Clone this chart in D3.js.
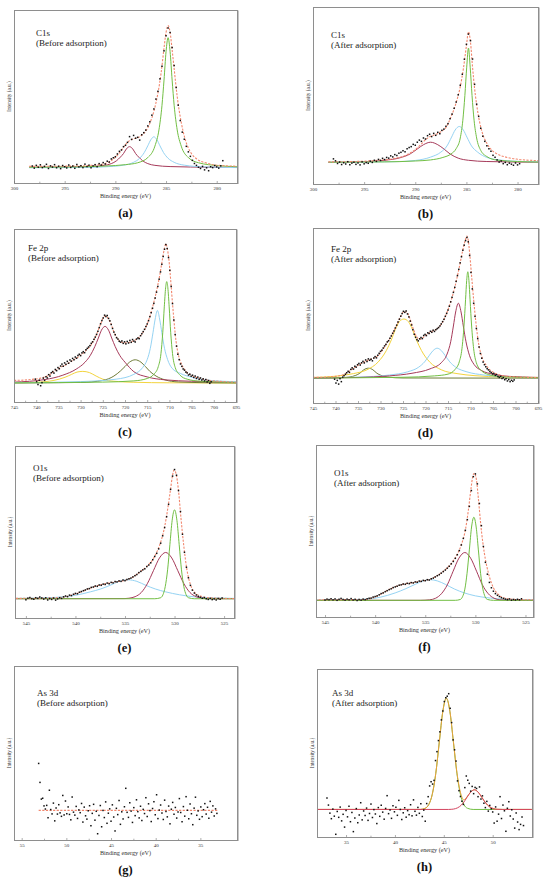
<!DOCTYPE html>
<html>
<head>
<meta charset="utf-8">
<script src="https://cdn.jsdelivr.net/npm/d3@7"></script>
<style>
  body { margin: 0; background: #fff; }
  svg { display: block; }
</style>
</head>
<body>
<svg width="550" height="882"></svg>
<script>
// ---- labels ----
var elements = ["C1s", "C1s", "Fe 2p", "Fe 2p", "O1s", "O1s", "As 3d", "As 3d"];
var states = ["(Before adsorption)", "(After adsorption)", "(Before adsorption)", "(After adsorption)",
              "(Before adsorption)", "(After adsorption)", "(Before adsorption)", "(After adsorption)"];
var letters = ["(a)", "(b)", "(c)", "(d)", "(e)", "(f)", "(g)", "(h)"];

var cTicks = [300, 295, 290, 285, 280];
var feTicks = [745, 740, 735, 730, 725, 720, 715, 710, 705, 700, 695];
var oTicks = [545, 540, 535, 530, 525];
var asTicksG = [55, 50, 45, 40, 35];
var asTicksH = [35, 40, 45, 50];

// intensities are in % of plot height, energies in eV

// ---- (a) C1s before ----
var aStart = 298.2, aStep = -0.2;
var aDots = [9.8,8.6,10.2,9.1,10.5,8.9,9.6,10.8,8.4,9.9,9.2,10.6,8.8,9.7,8.3,10.1,9.4,8.7,10.4,9.0,
  9.8,8.5,10.7,9.3,10.0,8.9,10.9,9.5,10.3,8.8,9.9,10.6,9.4,11.2,10.4,11.8,11.0,12.6,12.1,13.9,
  14.6,15.2,16.8,18.3,19.1,21.0,21.8,23.5,26.8,25.2,27.5,25.9,26.4,24.8,27.9,29.1,30.6,33.0,35.4,39.2,
  42.8,48.5,53.0,60.2,67.5,76.4,85.1,89.6,87.0,78.3,67.9,55.2,45.0,36.1,29.4,25.3,21.2,18.0,15.4,13.1,
  11.3,10.2,9.1,8.4,9.6,7.6,8.8,7.1,9.4,8.9,10.1,9.3,8.6,9.9,12.9];
var aGreen = [[298.5,9.1],[294,9.3],[291,9.8],[289,10.6],[287.8,11.7],[286.8,14.7],[286.1,21.3],[285.7,30.7],
  [285.4,44.9],[285.2,59.5],[285.0,75.9],[284.8,84],[284.6,75.9],[284.4,59.5],[284.2,44.9],[283.9,30.7],
  [283.5,21.3],[282.8,14.7],[281.8,11.7],[279.8,10],[278,9.4]];
var aBlue = [[298.5,8.8],[293,9.0],[291.2,9.3],[289.2,10.3],[288.2,11.95],[287.6,14.3],[287.15,17.6],[286.8,21.5],
  [286.5,25.0],[286.2,26.7],[285.9,25.0],[285.6,21.5],[285.25,17.6],[284.8,14.3],[284.2,11.95],[283.2,10.3],
  [281.2,9.3],[278,8.9]];
var aMaroon = [[298.5,9.0],[296.6,9.1],[292.6,9.5],[291.1,10.2],[290.4,11.2],[289.9,12.8],[289.5,15.0],[289.2,17.0],
  [288.9,19.8],[288.6,21],[288.3,19.8],[288.0,17.0],[287.7,15.0],[287.3,12.8],[286.8,11.2],[286.1,10.2],
  [284.6,9.5],[280.6,9.1],[278,9.0]];
var aFit = [[298.5,9.6],[294,9.8],[292,10.4],[291,11.3],[290.5,12.6],[290,14.8],[289.5,18.2],[289,22.2],[288.6,24.5],
  [288.2,25.6],[287.8,26.2],[287.4,27.6],[287,30],[286.6,34.5],[286.2,41.5],[285.8,52],[285.5,63],[285.2,78],
  [285,87],[284.8,91],[284.6,87],[284.4,77],[284.2,66],[283.9,50],[283.5,35],[283.1,25],[282.6,18],[282,14],
  [281,11.5],[280,10.3],[278,9.7]];

// ---- (b) C1s after ----
var bStart = 298.0, bStep = -0.2;
var bDots = [14.2,13.1,11.6,12.4,11.0,12.0,11.3,12.6,10.9,11.8,12.3,11.1,11.9,10.8,12.5,11.4,12.1,11.7,12.9,12.2,
  13.4,12.8,13.9,13.3,14.5,13.8,15.0,14.6,15.9,15.3,16.6,16.1,17.4,17.9,18.8,18.2,19.9,20.6,21.1,22.4,
  21.9,23.6,24.8,24.1,26.0,25.4,27.3,28.1,26.8,28.6,27.5,29.2,28.4,30.3,31.0,32.6,34.1,36.9,39.5,42.8,
  46.3,50.4,55.8,62.0,70.5,78.9,84.7,81.0,70.6,56.3,45.1,38.2,31.5,27.0,24.1,21.6,19.9,18.5,16.2,15.1,
  13.6,12.4,13.0,11.5,12.2,10.9,11.8,11.2,10.6,11.9,10.8,11.5];
var bGreen = [[298.5,12.3],[293,12.5],[290,13.0],[288.5,13.6],[287.3,15],[286.5,17],[286.0,20],[285.6,26],[285.35,36],
  [285.15,50],[284.97,66],[284.8,76.8],[284.63,66],[284.45,50],[284.25,36],[284.0,26],[283.6,19],[283.0,15.5],
  [282,13.5],[280,12.7],[278,12.4]];
var bBlue = [[298.5,12.3],[292,12.6],[290,13.3],[288.5,15.2],[287.5,18],[286.9,21.5],[286.45,26.5],[286.1,30.5],
  [285.7,32.5],[285.3,30.5],[284.95,26.5],[284.5,21.5],[283.9,18],[283,15.0],[281.5,13.4],[279.5,12.7],[278,12.5]];
var bMaroon = [[298.5,12.2],[295.5,12.5],[293,13.4],[291.5,14.8],[290.5,17.0],[289.8,19.8],[289.2,22.2],[288.5,23.6],
  [287.8,22.2],[287.2,19.8],[286.6,17.0],[285.8,14.6],[284.8,13.4],[283,12.7],[278,12.3]];
var bFit = [[298.5,12.5],[296,12.7],[294,13.2],[292,14.5],[291,16],[290,19.5],[289.5,22],[289,25],[288.5,27],[288,28],
  [287.5,29.5],[287,32],[286.5,38],[286,46],[285.6,55],[285.3,65],[285.0,78],[284.8,86],[284.6,80],[284.4,66],
  [284.2,54],[283.9,41],[283.5,30],[283,23],[282.5,19],[282,17],[281,15],[280,14],[278,13.2]];

// ---- (c) Fe 2p before ----
var cStart = 740.2, cStep = -0.3;
var cDots = [13.2,11.8,10.1,12.6,9.4,11.2,13.8,12.5,14.6,13.9,15.8,15.0,16.9,17.6,16.7,18.8,18.1,19.9,19.2,20.8,
  21.9,20.7,22.6,21.8,23.5,22.4,24.3,23.6,25.2,24.4,26.0,25.3,26.9,27.6,26.8,28.4,29.1,28.5,30.2,31.0,
  31.8,32.6,33.9,34.8,36.2,37.5,39.1,40.9,43.0,45.2,47.1,48.6,50.2,49.4,50.0,48.3,46.9,44.8,42.5,40.4,
  38.9,37.2,36.4,35.1,34.6,35.3,33.9,34.8,33.6,35.0,34.1,35.6,34.5,36.1,35.2,34.7,36.4,37.0,36.6,38.3,
  39.5,40.7,42.0,43.6,45.1,47.0,49.3,51.6,54.2,57.0,60.1,63.5,66.8,71.0,75.2,79.6,84.1,88.3,91.0,88.7,
  83.5,76.1,66.8,56.9,47.4,39.0,32.3,27.6,24.5,22.0,20.6,19.1,18.4,17.3,16.8,15.6,16.1,14.9,15.5,14.2,
  15.0,13.6,14.4,13.1,13.9,12.7,13.4,12.2,13.0,11.6,12.4,10.8,11.7];
var cGreen = [[745,11.1],[725,11.5],[718,12.2],[715,13.6],[713.5,16],[712.5,20.5],[711.9,28],[711.5,40],[711.15,55],
  [710.85,66],[710.6,69.6],[710.35,66],[710.05,55],[709.7,40],[709.3,28],[708.7,20],[707.6,15.5],[706,13.2],
  [703,12],[695,11.3]];
var cBlue = [[745,11.1],[730,11.8],[722,13.2],[718,16],[716,20],[715,24.5],[714.3,31],[713.7,40],[713.2,48],
  [712.7,52.9],[712.2,48],[711.7,40],[711.1,31],[710.4,24.5],[709.4,19.5],[707.5,16.5],[705,14.3],[702,12.8],
  [698,12],[695,11.7]];
var cMaroon = [[745,11.5],[738,13],[734,15.5],[731,19],[729,23],[727.8,27],[726.8,32],[726,37],[725.3,41.5],
  [724.5,43.7],[723.7,41.5],[723,37],[722.2,32],[721.2,27],[720,23],[718,17.5],[715,14.5],[711,12.8],
  [705,12],[695,11.4]];
var cOlive = [[745,11],[730,11.3],[725,12.5],[722.5,15],[721,18],[720,20.5],[719,23],[717.7,24.4],[716.4,23],
  [715.4,20.5],[714.4,17.7],[713,15],[711,12.8],[708,11.6],[700,11.1],[695,11]];
var cYellow = [[745,11],[740,11.4],[736,12.5],[733.5,14.3],[732,16],[730.8,17.3],[729.5,17.7],[728,17],[726.5,15],
  [725,13.2],[722.5,12],[718,11.4],[710,11.1],[695,11]];
var cFit = [[745,12.5],[742,12.8],[740.5,13.2],[739,13.8],[737.5,15],[736,17.5],[734.5,20],[733,22],[731.5,24.5],
  [730,27],[728.5,30.5],[727.5,33.5],[726.5,38.5],[725.5,45],[724.8,49],[724.4,49.8],[724,49],[723.2,45.5],
  [722.5,40.5],[721.8,37],[721,35],[720,34.2],[719,34.5],[718,35.5],[717,37],[716,40],[715,45],[714,53],
  [713,63],[712.2,73],[711.6,82],[711.1,89],[710.8,91.5],[710.5,89],[710.1,82],[709.7,70],[709.3,57],
  [708.9,45],[708.5,35],[708,27.5],[707.3,22],[706.5,18.5],[705.5,16],[704.5,14.8],[703,13.5],[701,12.5],
  [698,11.8],[695,11.4]];

// ---- (d) Fe 2p after ----
var dStart = 740.2, dStep = -0.3;
var dDots = [13.6,11.4,12.9,10.8,13.9,12.2,14.8,15.6,16.4,17.3,18.1,17.5,19.2,20.1,19.4,21.0,20.5,21.9,22.6,21.7,
  23.0,23.8,22.9,24.6,23.7,25.2,24.4,25.0,24.1,25.7,26.5,25.8,27.3,28.4,29.5,30.2,31.4,32.6,33.5,34.9,
  35.6,37.0,38.3,39.8,41.2,42.9,44.5,46.3,47.9,49.6,51.1,52.4,51.8,52.6,50.9,49.2,46.8,44.6,41.9,39.3,
  37.6,36.2,35.5,36.7,37.4,36.8,38.6,39.2,38.5,40.1,39.7,41.0,40.4,41.6,40.9,41.9,42.5,43.1,44.0,45.2,
  46.5,47.8,49.5,51.2,53.1,55.3,57.8,60.4,63.2,66.1,69.5,72.8,76.4,80.1,83.6,87.3,90.2,92.8,94.6,92.1,
  84.3,74.6,65.2,57.0,49.5,42.6,36.8,32.0,28.3,25.6,23.4,21.9,20.7,19.6,18.9,18.0,17.4,16.6,16.9,15.8,
  16.2,15.1,14.6,15.2,14.0,14.5,13.3,13.9,12.6,13.4,12.2,13.0,12.4,13.2];
var dGreen = [[745,14.3],[725,14.7],[718,15.5],[715,16.5],[713.5,19],[712.5,23.5],[711.9,31],[711.45,44],[711.1,59],
  [710.85,70],[710.6,75],[710.35,70],[710.1,59],[709.75,44],[709.3,31],[708.7,23],[707.6,18.5],[706,16.3],
  [703,15],[695,14.5]];
var dMaroon = [[745,14.3],[735,14.6],[728,15.5],[723,17],[719,19.5],[716.5,23],[715.2,28],[714.4,35],[713.8,44],
  [713.3,52],[712.7,57],[712.1,52],[711.6,44],[711.0,35],[710.2,27],[709.2,22],[707.5,18.5],[705,16.5],
  [702,15.3],[695,14.6]];
var dYellow = [[745,14.6],[740,15.3],[736,16.8],[733,19],[730.5,23.5],[728.7,30],[727.6,36],[726.7,42],[725.8,46.5],
  [724.8,48],[723.8,46.5],[722.9,42],[722.0,36],[720.9,30],[719.1,23.5],[716.5,19],[713,16.8],[709,15.6],
  [703,14.9],[695,14.6]];
var dBlue = [[745,14.3],[735,14.8],[728,16],[724,17.8],[721.5,20.5],[720.2,23.5],[719.2,27],[718.3,30],[717.4,31.3],
  [716.5,30],[715.6,27],[714.6,23.5],[713.3,20.5],[710.8,17.8],[707,16],[700,14.8],[695,14.5]];
var dOlive = [[745,14.2],[740,14.3],[737,14.8],[735.5,15.8],[734.6,17],[733.7,19],[732.7,19.9],[731.7,19],[730.8,17],
  [729.9,15.8],[728.4,14.8],[725,14.3],[695,14.2]];
var dFit = [[745,14.6],[742,14.8],[740,15.2],[738,16.5],[736.5,19],[735,21.5],[733.5,23.6],[732.5,24.8],[731.5,25.5],
  [730.5,27.2],[729.5,30.5],[728.5,34.5],[727.5,38.8],[726.5,44],[725.5,49.5],[724.8,52.2],[724.2,52],
  [723.5,48.5],[722.8,43],[722,38],[721.3,36.4],[720.5,37.5],[719.5,39.5],[718.5,41],[717.5,42.2],[716.5,45],
  [715.5,50],[714.5,57],[713.5,66],[712.5,77.5],[711.7,87.5],[711.1,93.5],[710.8,95.4],[710.5,93],[710.2,86],
  [709.8,74],[709.3,59],[708.8,46],[708.2,34],[707.5,26.5],[706.5,21.5],[705.5,18.5],[704,16.5],[702,15.3],
  [699,14.8],[695,14.5]];

// ---- (e) O1s before ----
var eStart = 545.0, eStep = -0.2;
var eDots = [10.6,11.5,11.9,11.2,10.9,11.8,11.4,12.2,11.6,11.0,11.7,10.5,11.3,10.8,11.6,10.4,11.1,11.8,11.4,12.3,
  12.8,12.4,13.3,13.0,13.8,14.3,14.1,15.0,15.4,15.9,16.3,16.9,17.1,17.8,18.0,18.6,18.4,19.2,19.0,19.7,
  19.5,20.3,19.9,20.7,20.4,21.2,21.0,21.6,21.3,22.1,21.7,22.4,22.8,23.2,23.9,24.6,25.3,26.4,27.1,28.0,
  28.6,29.9,30.8,32.1,33.9,35.8,37.6,40.2,43.5,47.8,52.6,58.9,66.1,74.8,82.5,86.3,83.0,74.1,61.9,48.7,
  38.2,29.5,23.4,19.0,16.2,14.5,13.4,12.6,12.1,11.5,11.9,11.2,10.8,11.4,10.7,11.1,10.5,11.3,10.9,11.6];
var eGreen = [[546,11.2],[532,11.2],[531.4,11.8],[531.17,13.5],[530.94,18.2],[530.7,28],[530.47,42.6],[530.24,56.8],
  [530,62.9],[529.76,56.8],[529.53,42.6],[529.3,28],[529.06,18.2],[528.83,13.5],[528.6,11.8],[528,11.2],[524,11.2]];
var eMaroon = [[546,11.2],[535,11.3],[534.6,11.5],[533.98,12.4],[533.36,14.8],[532.75,19.9],[532.13,27.5],
  [531.52,34.9],[530.9,38.1],[530.28,34.9],[529.67,27.5],[529.05,19.9],[528.44,14.8],[527.82,12.4],[527.2,11.5],
  [526.5,11.2],[524,11.2]];
var eBlue = [[546,11.4],[542,12],[540,13.2],[538.5,15.2],[537.5,16.8],[536.5,19],[535.6,21.3],[534.7,22.2],
  [533.8,21.3],[532.9,19],[531.9,16.8],[530.9,15.2],[529.5,13.5],[528,12.3],[526,11.7],[524,11.4]];
var eFit = [[546,11.4],[542,11.8],[541,12.4],[540,14],[539,16.2],[538,18.4],[537,19.9],[536,21],[535,21.9],
  [534.2,23.8],[533.5,26.8],[532.8,30],[532.2,34],[531.7,39.5],[531.3,46],[531,53],[530.7,63],[530.4,75],
  [530.2,83],[530.05,86],[529.85,84],[529.6,74],[529.35,58],[529.05,41],[528.75,28],[528.4,19.5],[528,15],
  [527.4,12.8],[526.5,11.8],[524,11.3]];

// ---- (f) O1s after ----
var fStart = 545.0, fStep = -0.2;
var fDots = [9.9,10.4,10.1,10.6,10.0,10.5,9.7,10.3,10.8,10.2,9.8,10.4,10.0,10.7,9.9,10.3,9.6,10.2,9.8,10.4,
  10.1,10.6,10.9,11.0,11.6,11.9,12.3,12.9,13.6,14.0,14.7,15.3,15.9,16.4,17.1,17.5,17.9,18.5,18.7,19.2,
  19.0,19.6,19.4,20.0,19.8,20.4,20.2,20.9,20.7,21.3,21.1,21.7,21.5,22.2,22.6,23.3,24.0,24.6,25.5,26.4,
  27.3,28.4,29.5,30.9,32.3,34.1,36.2,38.6,41.9,45.7,50.4,56.6,64.3,73.5,81.6,83.2,77.4,66.0,53.1,41.0,
  31.8,24.9,20.1,17.0,15.0,13.6,12.6,11.9,11.2,10.8,10.4,10.1,10.5,9.8,10.2,9.9,10.3,10.0,10.6];
var fGreen = [[546,9.7],[532,9.7],[531.5,10.2],[531.28,11.8],[531.05,16.2],[530.83,25.4],[530.6,39],[530.38,52.3],
  [530.15,58],[529.92,52.3],[529.7,39],[529.48,25.4],[529.25,16.2],[529.03,11.8],[528.8,10.2],[528.2,9.7],[524,9.7]];
var fMaroon = [[546,9.7],[535.5,9.7],[534.55,10],[533.97,10.9],[533.39,13.5],[532.8,18.7],[532.22,26.6],
  [531.64,34.2],[531.05,37.5],[530.47,34.2],[529.88,26.6],[529.3,18.7],[528.71,13.5],[528.13,10.9],[527.55,10],
  [526.5,9.7],[524,9.7]];
var fBlue = [[546,9.8],[541,10.3],[539.5,11.5],[538,14],[537,16.3],[536,19],[535.2,21],[534.5,21.7],[533.8,21],
  [533,19],[532.1,16.3],[531.1,14],[530,12.3],[528.5,11.0],[527,10.3],[524,9.9]];
var fFit = [[546,10],[541,10.2],[540.3,11],[539.7,12.4],[539,14.8],[538,17.6],[537,19.3],[536,20.2],[535,21.3],
  [534.4,22.2],[533.7,24.5],[533,27.5],[532.4,31.2],[531.9,35.5],[531.4,42],[531,50.5],[530.7,62],[530.45,74],
  [530.25,82],[530.1,83.6],[529.9,80],[529.7,69],[529.45,53],[529.1,37],[528.7,25.5],[528.2,17],[527.7,13],
  [527.1,11],[526,10.2],[524,10]];

// ---- (g) As 3d before ----
var gStart = 53.1, gStep = -0.15;
var gDots = [44.0,33.1,23.5,24.0,19.6,17.8,19.9,12.8,28.6,17.5,15.0,21.2,11.0,18.4,14.9,20.3,15.6,13.6,25.6,14.4,
  22.4,15.1,19.0,14.7,11.6,24.7,16.0,14.3,19.3,12.4,17.3,15.7,21.0,10.3,18.9,13.9,12.0,16.8,19.7,8.2,
  15.3,20.5,11.4,16.5,3.6,14.1,19.8,7.6,17.0,12.9,21.9,9.6,15.4,17.9,10.8,20.2,13.2,5.2,18.2,14.6,
  22.7,9.0,16.2,12.1,19.1,29.7,15.9,13.0,21.4,16.6,10.1,18.6,14.0,23.1,16.3,12.7,19.4,11.2,17.6,15.2,
  24.3,13.5,20.8,16.9,10.6,18.1,22.0,14.5,26.0,12.3,17.2,20.1,15.5,11.8,22.9,16.4,13.3,19.5,9.3,17.7,
  21.6,14.8,18.7,12.6,16.1,23.8,15.8,10.5,19.2,13.7,24.9,17.1,12.2,20.7,15.1,8.8,18.3,24.6,14.2,16.7,
  11.9,19.0,13.4,17.4,20.9,14.9,18.8,12.5,22.2,16.0,19.6,13.8,17.9,15.3];
var gFit = [[53.1,17],[33.1,17]];

// ---- (h) As 3d after ----
var hStart = 33.05, hStep = 0.15;
var hDots = [23.2,19.0,14.2,10.9,16.6,12.4,1.6,15.2,11.7,17.8,9.6,13.5,5.9,15.8,12.0,18.3,9.1,14.6,3.2,11.3,
  16.9,8.5,13.1,20.4,10.2,15.5,12.8,17.2,9.9,14.0,19.6,11.6,16.3,13.7,8.0,17.5,12.3,18.9,14.8,10.6,
  17.0,24.6,13.9,16.1,11.1,18.6,15.0,17.7,12.9,21.8,16.4,10.4,14.4,17.4,11.8,15.7,13.3,19.2,12.6,22.1,
  15.3,13.0,17.6,14.1,19.8,12.2,16.0,9.4,19.9,24.0,30.4,32.9,31.5,33.7,45.5,50.8,57.4,62.6,69.7,75.0,
  80.6,82.9,83.8,85.3,76.6,68.1,57.8,51.9,45.2,33.4,27.6,24.1,21.3,19.4,29.4,36.3,33.8,31.9,27.3,30.1,
  25.8,29.5,28.9,24.0,29.8,22.6,24.5,20.1,17.5,21.2,15.4,18.8,16.8,14.9,8.3,17.9,9.4,13.6,24.0,11.0,
  19.0,15.6,3.4,17.1,21.0,12.5,16.2,10.7,5.3,14.3,8.9,4.4,7.5,11.9,6.8];
var hGreen = [[32,16.4],[42.6,16.4],[43.1,17.1],[43.46,19.3],[43.82,25.4],[44.18,37.9],[44.54,56.6],[44.9,74.8],
  [45.26,82.6],[45.62,74.8],[45.98,56.6],[46.34,37.9],[46.7,25.4],[47.06,19.3],[47.42,17.1],[48,16.4],[54,16.4]];
var hRed = [[32,16.4],[45.5,16.4],[45.82,16.5],[46.2,16.9],[46.59,18],[46.98,20.2],[47.36,23.5],[47.75,26.7],
  [48.13,28.1],[48.51,26.7],[48.9,23.5],[49.29,20.2],[49.67,18],[50.06,16.9],[50.44,16.5],[51,16.4],[54,16.4]];
var hFit = [[32,16.4],[42.6,16.4],[43.1,17.1],[43.46,19.3],[43.82,25.4],[44.18,37.9],[44.54,56.6],[44.9,74.8],
  [45.26,82.6],[45.62,74.9],[45.98,56.8],[46.34,38.4],[46.7,26.6],[47.06,22.1],[47.36,23.8],[47.75,26.8],
  [48.13,28.1],[48.51,26.7],[48.9,23.5],[49.29,20.2],[49.67,18],[50.06,16.9],[50.44,16.5],[51,16.4],[54,16.4]];

// ---- colours ----
var col = {
  fit: "#f2876e", green: "#72bf44", blue: "#95d3f3", maroon: "#a63a5a",
  olive: "#6e7b36", yellow: "#f3d43e", orange: "#eca03c", red: "#d3455f"
};

// ---- panel layout ----
var panels = [
  {left: 14, right: 237, top: 10, bottom: 183, domain: [300, 278], ticks: cTicks,
   start: aStart, step: aStep, dots: aDots, fit: aFit,
   comps: [[aMaroon, col.maroon], [aBlue, col.blue], [aGreen, col.green]], tx: 36, ty: 36},
  {left: 313, right: 538, top: 7, bottom: 184, domain: [300, 278], ticks: cTicks,
   start: bStart, step: bStep, dots: bDots, fit: bFit,
   comps: [[bMaroon, col.maroon], [bBlue, col.blue], [bGreen, col.green]], tx: 331, ty: 38},
  {left: 14, right: 236, top: 229, bottom: 402, domain: [745, 695], ticks: feTicks,
   start: cStart, step: cStep, dots: cDots, fit: cFit,
   comps: [[cYellow, col.yellow], [cOlive, col.olive], [cMaroon, col.maroon], [cBlue, col.blue], [cGreen, col.green]],
   tx: 28, ty: 251},
  {left: 313, right: 538, top: 228, bottom: 403, domain: [745, 695], ticks: feTicks,
   start: dStart, step: dStep, dots: dDots, fit: dFit,
   comps: [[dOlive, col.olive], [dYellow, col.yellow], [dBlue, col.blue], [dMaroon, col.maroon], [dGreen, col.green]],
   tx: 331, ty: 252},
  {left: 15, right: 234, top: 446, bottom: 618, domain: [546.1, 524], ticks: oTicks,
   start: eStart, step: eStep, dots: eDots, fit: eFit,
   comps: [[eBlue, col.blue], [eMaroon, col.maroon], [eGreen, col.green]], tx: 33, ty: 471},
  {left: 316, right: 533, top: 445, bottom: 617, domain: [545.9, 524.25], ticks: oTicks,
   start: fStart, step: fStep, dots: fDots, fit: fFit,
   comps: [[fBlue, col.blue], [fMaroon, col.maroon], [fGreen, col.green]], tx: 334, ty: 476},
  {left: 14, right: 237, top: 666, bottom: 840, domain: [55.86, 30.9], ticks: asTicksG,
   start: gStart, step: gStep, dots: gDots, fit: gFit, comps: [], tx: 37, ty: 696},
  {left: 317, right: 532, top: 669, bottom: 837, domain: [32.03, 54.02], ticks: asTicksH,
   start: hStart, step: hStep, dots: hDots, fit: hFit, solidFit: true,
   comps: [[hGreen, col.green]], top2: [[hRed, col.red]], tx: 332, ty: 696}
];

var svg = d3.select("svg");
var serif = "'Liberation Serif', 'DejaVu Serif', serif";

panels.forEach(function(p, i) {
  var x = d3.scaleLinear().domain(p.domain).range([p.left, p.right]);
  var y = d3.scaleLinear().domain([0, 100]).range([p.bottom, p.top]);
  var g = svg.append("g");

  var clipId = "clip" + i;
  svg.append("clipPath").attr("id", clipId)
    .append("rect")
    .attr("x", p.left).attr("y", p.top)
    .attr("width", p.right - p.left).attr("height", p.bottom - p.top);

  var line = d3.line()
    .x(function(d) { return x(d[0]); })
    .y(function(d) { return y(d[1]); })
    .curve(d3.curveMonotoneX);

  var plot = g.append("g").attr("clip-path", "url(#" + clipId + ")");

  p.comps.forEach(function(c) {
    plot.append("path").attr("d", line(c[0]))
      .attr("fill", "none").attr("stroke", c[1]).attr("stroke-width", 1);
  });

  plot.append("path").attr("d", line(p.fit))
    .attr("fill", "none")
    .attr("stroke", p.solidFit ? col.orange : col.fit)
    .attr("stroke-width", p.solidFit ? 1 : 1.1)
    .attr("stroke-dasharray", p.solidFit ? null : "2.2,1.4");

  (p.top2 || []).forEach(function(c) {
    plot.append("path").attr("d", line(c[0]))
      .attr("fill", "none").attr("stroke", c[1]).attr("stroke-width", 1);
  });

  plot.selectAll("rect.pt")
    .data(p.dots)
    .enter().append("rect")
    .attr("class", "pt")
    .attr("x", function(d, k) { return x(p.start + k * p.step) - 0.75; })
    .attr("y", function(d) { return y(d) - 0.75; })
    .attr("width", 1.5).attr("height", 1.5)
    .attr("fill", "#111");

  // frame, drawn on half pixels so it stays crisp
  g.append("rect")
    .attr("x", p.left + 0.5).attr("y", p.top + 0.5)
    .attr("width", p.right - p.left).attr("height", p.bottom - p.top)
    .attr("fill", "none").attr("stroke", "#8e8e8e").attr("stroke-width", 1);
  g.append("line")
    .attr("x1", p.right + 1.5).attr("x2", p.right + 1.5)
    .attr("y1", p.top + 0.5).attr("y2", p.bottom + 1)
    .attr("stroke", "#c6c6c6").attr("stroke-width", 1);

  // axis
  var minor = p.ticks.slice(1).map(function(t, k) { return (t + p.ticks[k]) / 2; });
  var ax = g.append("g").attr("transform", "translate(0," + p.bottom + ")")
    .call(d3.axisBottom(x).tickValues(p.ticks).tickSize(-2).tickPadding(3.5).tickFormat(d3.format("d")));
  ax.select(".domain").remove();
  ax.selectAll("line").attr("stroke", "#777").attr("stroke-width", 0.6);
  ax.selectAll("text").attr("font-family", serif).attr("font-size", 5).attr("fill", "#333");

  var axm = g.append("g").attr("transform", "translate(0," + p.bottom + ")")
    .call(d3.axisBottom(x).tickValues(minor).tickSize(-1.3).tickFormat(""));
  axm.select(".domain").remove();
  axm.selectAll("line").attr("stroke", "#777").attr("stroke-width", 0.6);

  var cx = (p.left + p.right) / 2;
  g.append("text")
    .attr("x", cx).attr("y", p.bottom + 15)
    .attr("text-anchor", "middle")
    .attr("font-family", serif).attr("font-size", 6.2).attr("fill", "#333")
    .text("Binding energy (eV)");

  g.append("text")
    .attr("transform", "translate(" + (p.left - 3) + "," + ((p.top + p.bottom) / 2) + ") rotate(-90)")
    .attr("text-anchor", "middle")
    .attr("font-family", serif).attr("font-size", 5.2).attr("fill", "#333")
    .text("Intensity (a.u.)");

  g.append("text")
    .attr("x", p.tx).attr("y", p.ty)
    .attr("font-family", serif).attr("font-size", 9).attr("fill", "#222")
    .text(elements[i]);
  g.append("text")
    .attr("x", p.tx).attr("y", p.ty + 10)
    .attr("font-family", serif).attr("font-size", 9).attr("fill", "#222")
    .text(states[i]);

  g.append("text")
    .attr("x", cx).attr("y", p.bottom + 34)
    .attr("text-anchor", "middle")
    .attr("font-family", serif).attr("font-size", 12.5).attr("font-weight", "bold")
    .attr("fill", "#111")
    .text(letters[i]);
});
</script>
</body>
</html>
